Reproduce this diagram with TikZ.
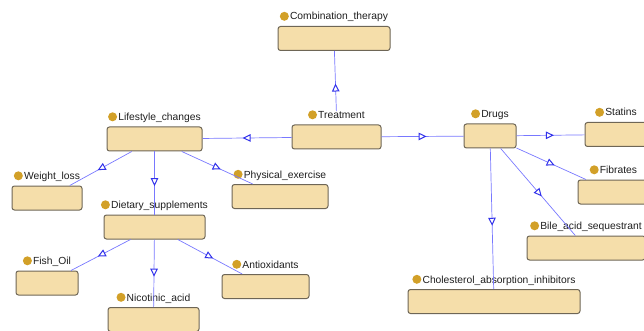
\documentclass[tikz,border=0pt]{standalone}
\usepackage{fontspec}
\setmainfont{Liberation Sans}
\usetikzlibrary{arrows.meta,decorations.markings}
\definecolor{boxfill}{RGB}{245,222,170}
\definecolor{boxline}{RGB}{110,102,86}
\definecolor{dotc}{RGB}{210,160,40}
\definecolor{edgec}{RGB}{120,120,255}
\definecolor{arrc}{RGB}{50,50,235}
\definecolor{txtc}{RGB}{30,30,30}
\tikzset{
  clsbox/.style={draw=boxline, fill=boxfill, line width=1pt, rounded corners=2.5pt,
    minimum height=24pt, inner sep=0pt},
  clslbl/.style={inner sep=0pt, text=txtc, font=\fontsize{10.3}{12}\selectfont},
  isa/.style={draw=edgec, line width=0.7pt, postaction={decorate},
    decoration={markings, mark=at position #1 with
      {\arrow[arrc, line width=1pt]{Triangle[open, fill=white, length=8pt, width=7.5pt]}}}},
  isa/.default=0.55
}
\newcommand{\cls}[5]{%
  \node[clsbox, minimum width=#4pt] (#1) at (#2,#3) {};
  \node[clslbl, anchor=base] (#1-l) at ([yshift=6pt]#1.north) {\hspace*{10pt}#5};
  \fill[dotc] ([xshift=4.5pt, yshift=3.7pt]#1-l.base west) circle (4.5pt);
}
\begin{document}
\begin{tikzpicture}[x=1pt, y=-1pt]
\useasboundingbox (0,0) rectangle (644,331);
\clip (0,0) rectangle (644,331);
\cls{comb}{334}{38.5}{112}{Combination\_therapy}
\cls{treat}{336.5}{137}{89}{Treatment}
\cls{life}{154.5}{139}{95}{Lifestyle\_changes}
\cls{drugs}{490}{136}{52}{Drugs}
\cls{statins}{616}{134.5}{62}{Statins}
\cls{fibr}{613.5}{192}{71}{Fibrates}
\cls{bile}{586}{248}{118}{Bile\_acid\_sequestrant}
\cls{chol}{494}{301.5}{172}{Cholesterol\_absorption\_inhibitors}
\cls{weight}{47}{198}{70}{Weight\_loss}
\cls{phys}{280}{196.5}{96}{Physical\_exercise}
\cls{diet}{154.5}{227}{101}{Dietary\_supplements}
\cls{fish}{47}{283}{62}{Fish\_Oil}
\cls{nic}{153.5}{319.5}{91}{Nicotinic\_acid}
\cls{antiox}{265.5}{286.5}{87}{Antioxidants}
\draw[isa=0.46] (treat-l) -- (comb);
\draw[isa] (treat) -- (life);
\draw[isa] (treat) -- (drugs);
\draw[isa] (life) -- (weight);
\draw[isa] (life) -- (diet);
\draw[isa] (life) -- (phys);
\draw[isa] (diet) -- (fish);
\draw[isa] (diet) -- (nic);
\draw[isa] (diet) -- (antiox);
\draw[isa] (drugs) -- (statins);
\draw[isa] (drugs) -- (fibr);
\draw[isa] (drugs) -- (bile);
\draw[isa] (drugs) -- (chol);
\end{tikzpicture}
\end{document}
